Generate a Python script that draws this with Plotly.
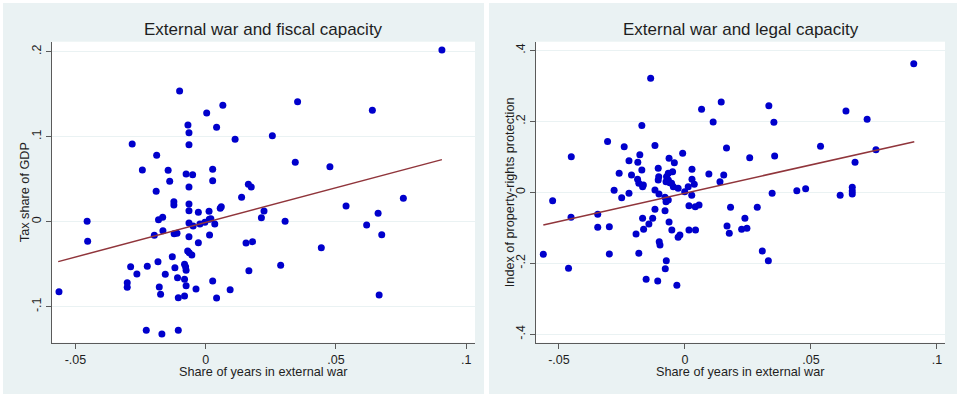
import plotly.graph_objects as go

# ---------------- data ----------------
fiscal_x = [0.0907, -0.0100, 0.0353, 0.0640, 0.0066, 0.0004, 0.0042, -0.0068, -0.0064, -0.0064,
            0.0113, 0.0256, -0.0282, -0.0188, -0.0243, -0.0144, -0.0138, -0.0075, -0.0050, 0.0027,
            0.0027, -0.0064, -0.0190, 0.0164, 0.0175, 0.0344, 0.0477, 0.0138, 0.0759, -0.0122,
            -0.0122, -0.0064, -0.0064, -0.0028, 0.0013, 0.0060, 0.0056, 0.0224, 0.0214, -0.0455,
            -0.0181, -0.0165, -0.0064, -0.0048, -0.0022, -0.0003, 0.0014, 0.0020, 0.0035, -0.0164,
            -0.0197, -0.0121, -0.0110, -0.0064, 0.0015, -0.0028, -0.0453, 0.0155, 0.0180, 0.0539,
            0.0662, 0.0618, 0.0676, 0.0305, 0.0444, 0.0288, 0.0666, -0.0563, -0.0288, -0.0264,
            -0.0301, -0.0301, -0.0224, -0.0183, -0.0128, -0.0155, -0.0118, -0.0081, -0.0077, -0.0075,
            -0.0069, -0.0063, -0.0053, -0.0108, -0.0081, -0.0075, -0.0081, -0.0105, -0.0178, -0.0173,
            -0.0037, 0.0027, 0.0042, 0.0094, 0.0166, -0.0228, -0.0168, -0.0105]
fiscal_y = [0.2020, 0.1538, 0.1410, 0.1310, 0.1370, 0.1280, 0.1110, 0.1138, 0.1047, 0.0906,
            0.0969, 0.1012, 0.0914, 0.0781, 0.0608, 0.0605, 0.0475, 0.0561, 0.0553, 0.0616,
            0.0482, 0.0408, 0.0358, 0.0440, 0.0408, 0.0699, 0.0647, 0.0287, 0.0275, 0.0235,
            0.0195, 0.0208, 0.0129, 0.0111, 0.0122, 0.0176, 0.0158, 0.0126, 0.0047, 0.0005,
            0.0024, 0.0052, -0.0015, -0.0051, -0.0027, -0.0007, 0.0028, 0.0035, -0.0027, -0.0106,
            -0.0160, -0.0141, -0.0136, -0.0176, -0.0156, -0.0247, -0.0231, -0.0251, -0.0235, 0.0185,
            0.0099, -0.0039, -0.0153, 0.0005, -0.0306, -0.0513, -0.0862, -0.0824, -0.0529, -0.0615,
            -0.0718, -0.0772, -0.0525, -0.0471, -0.0412, -0.0619, -0.0541, -0.0501, -0.0529, -0.0572,
            -0.0345, -0.0365, -0.0392, -0.0659, -0.0678, -0.0753, -0.0874, -0.0894, -0.0768, -0.0854,
            -0.0792, -0.0698, -0.0898, -0.0800, -0.0576, -0.1278, -0.1321, -0.1278]
fiscal_fit_x = [-0.0566, 0.0907]
fiscal_fit_y = [-0.0470, 0.0730]

legal_x = [0.0908, -0.0136, 0.0144, 0.0333, 0.0066, 0.0639, 0.0112, 0.0353, 0.0723, -0.0171,
           -0.0307, -0.0241, -0.0119, 0.0165, 0.0538, 0.0758, -0.0451, 0.0257, 0.0356, 0.0675,
           -0.0222, -0.0187, -0.0179, -0.0063, -0.0009, -0.0042, -0.0261, -0.0212, -0.0171, -0.0106,
           0.0028, 0.0095, 0.0154, 0.0139, -0.0066, -0.0049, -0.0073, -0.0066, -0.0075, -0.0060,
           -0.0188, -0.0183, -0.0165, -0.0168, -0.0106, -0.0104, -0.0046, -0.0027, 0.0013, 0.0028,
           0.0037, -0.0001, -0.0281, -0.0222, -0.0251, -0.0119, -0.0103, -0.0079, -0.0066, -0.0075,
           0.0027, 0.0016, 0.0041, 0.0056, -0.0119, -0.0079, 0.0181, 0.0287, -0.0346, -0.0452,
           -0.0168, -0.0128, -0.0063, 0.0238, -0.0525, -0.0346, -0.0300, -0.0562, -0.0462, -0.0300,
           -0.0143, -0.0164, -0.0194, -0.0052, -0.0027, -0.0020, 0.0016, 0.0042, 0.0167, 0.0176,
           0.0225, 0.0246, 0.0307, 0.0331, -0.0102, -0.0099, -0.0183, -0.0074, -0.0078, -0.0154,
           -0.0108, -0.0032, 0.0346, 0.0444, 0.0479, 0.0616, 0.0664, 0.0664, 0.0664, -0.0053]
legal_y = [0.3623, 0.3210, 0.2540, 0.2440, 0.2340, 0.2290, 0.1980, 0.1970, 0.2060, 0.1880,
           0.1430, 0.1280, 0.1320, 0.1250, 0.1300, 0.1200, 0.1000, 0.0975, 0.1020, 0.0845,
           0.0890, 0.0845, 0.1060, 0.0958, 0.1100, 0.0834, 0.0535, 0.0487, 0.0628, 0.0676,
           0.0648, 0.0515, 0.0487, 0.0299, 0.0535, 0.0580, 0.0440, 0.0346, 0.0299, 0.0270,
           0.0366, 0.0254, 0.0206, 0.0158, 0.0346, 0.0440, 0.0158, 0.0113, 0.0158, 0.0366,
           0.0225, 0.0017, 0.0056, -0.0028, -0.0152, 0.0065, -0.0048, -0.0141, -0.0217, -0.0265,
           -0.0085, -0.0377, -0.0406, -0.0358, -0.0479, -0.0518, -0.0423, -0.0423, -0.0620, -0.0704,
           -0.0732, -0.0732, -0.0837, -0.0732, -0.0237, -0.0986, -0.0969, -0.1746, -0.2141, -0.1738,
           -0.0893, -0.1040, -0.1175, -0.1062, -0.1268, -0.1203, -0.1062, -0.1062, -0.0949, -0.1155,
           -0.1042, -0.1014, -0.1653, -0.1927, -0.1390, -0.1485, -0.1718, -0.1927, -0.2152, -0.2450,
           -0.2499, -0.2620, -0.0028, 0.0045, 0.0101, -0.0085, 0.0141, 0.0037, -0.0048, 0.0253]
legal_fit_x = [-0.0562, 0.0910]
legal_fit_y = [-0.0921, 0.1425]

x_tickvals = [-0.05, 0, 0.05, 0.1]
x_ticktext = ["-.05", "0", ".05", ".1"]
fiscal_tickvals = [-0.1, 0, 0.1, 0.2]
fiscal_ticktext = ["-.1", "0", ".1", ".2"]
legal_tickvals = [-0.4, -0.2, 0, 0.2, 0.4]
legal_ticktext = ["-.4", "-.2", "0", ".2", ".4"]

titles = ["External war and fiscal capacity", "External war and legal capacity"]
x_title = "Share of years in external war"
y_titles = ["Tax share of GDP", "Index of property-rights protection"]

# ---------------- figure ----------------
W, H = 960, 397
BLUE = "#0000CC"
MAROON = "#90353B"
PANEL = "#EAF2F3"
FONT = "Liberation Sans, Arial, sans-serif"
TXT = "#1e1e1e"

fig = go.Figure()
fig.add_trace(go.Scatter(x=fiscal_x, y=fiscal_y, mode="markers", xaxis="x", yaxis="y",
                         marker=dict(color=BLUE, size=7), showlegend=False))
fig.add_trace(go.Scatter(x=fiscal_fit_x, y=fiscal_fit_y, mode="lines", xaxis="x", yaxis="y",
                         line=dict(color=MAROON, width=1.5), showlegend=False))
fig.add_trace(go.Scatter(x=legal_x, y=legal_y, mode="markers", xaxis="x2", yaxis="y2",
                         marker=dict(color=BLUE, size=7), showlegend=False))
fig.add_trace(go.Scatter(x=legal_fit_x, y=legal_fit_y, mode="lines", xaxis="x2", yaxis="y2",
                         line=dict(color=MAROON, width=1.5), showlegend=False))


def px_x(p):
    return p / W


def px_y(p):
    return 1 - p / H


L1, R1 = 51.7, 475.0
L2, R2 = 536.0, 945.0
TOP, BOT = 41.7, 342.7
ydom = [px_y(BOT), px_y(TOP)]
axis_common = dict(showline=True, linecolor="#5a5a5a", linewidth=1, ticks="outside",
                   ticklen=5, tickcolor="#5a5a5a", zeroline=False, mirror=False,
                   automargin=False,
                   tickfont=dict(family=FONT, size=12.5, color=TXT))

fig.update_layout(
    width=W, height=H,
    margin=dict(l=0, r=0, t=0, b=0, autoexpand=False),
    paper_bgcolor=PANEL,
    plot_bgcolor="white",
    font=dict(family=FONT, color=TXT),
    xaxis=dict(domain=[px_x(L1), px_x(R1)], range=[-0.0591, 0.1034],
               tickvals=x_tickvals, ticktext=x_ticktext, showgrid=False, anchor="y",
               **axis_common),
    yaxis=dict(domain=ydom, range=[-0.1424, 0.2118], tickvals=fiscal_tickvals,
               ticktext=fiscal_ticktext, tickangle=-90, showgrid=True, gridcolor=PANEL,
               gridwidth=1, anchor="x", **axis_common),
    xaxis2=dict(domain=[px_x(L2), px_x(R2)], range=[-0.0591, 0.1032],
                tickvals=x_tickvals, ticktext=x_ticktext, showgrid=False, anchor="y2",
                **axis_common),
    yaxis2=dict(domain=ydom, range=[-0.4237, 0.4242], tickvals=legal_tickvals,
                ticktext=legal_ticktext, tickangle=-90, showgrid=True, gridcolor=PANEL,
                gridwidth=1, anchor="x2", **axis_common),
)

ann = []
for i, (l, r, ytx) in enumerate([(L1, R1, 25.0), (L2, R2, 510.0)]):
    cx = (px_x(l) + px_x(r)) / 2
    ann.append(dict(text=titles[i], x=cx, y=px_y(29.5), xref="paper", yref="paper",
                    showarrow=False, xanchor="center", yanchor="middle",
                    font=dict(family=FONT, size=17, color=TXT)))
    ann.append(dict(text=x_title, x=cx, y=px_y(371.7), xref="paper", yref="paper",
                    showarrow=False, xanchor="center", yanchor="middle",
                    font=dict(family=FONT, size=12.7, color=TXT)))
    ann.append(dict(text=y_titles[i], x=px_x(ytx), y=px_y((TOP + BOT) / 2), xref="paper",
                    yref="paper", showarrow=False, xanchor="center", yanchor="middle",
                    textangle=-90, font=dict(family=FONT, size=12.7, color=TXT)))
fig.update_layout(annotations=ann)

white = dict(fillcolor="white", line=dict(width=0), layer="below", type="rect",
             xref="paper", yref="paper")
fig.update_layout(shapes=[
    dict(x0=0, x1=1, y0=px_y(3), y1=1, **white),
    dict(x0=0, x1=1, y0=0, y1=px_y(394), **white),
    dict(x0=0, x1=px_x(3), y0=0, y1=1, **white),
    dict(x0=px_x(957), x1=1, y0=0, y1=1, **white),
    dict(x0=px_x(484), x1=px_x(489), y0=0, y1=1, **white),
])

fig.write_html("out.html", config={"displayModeBar": False},
               post_script="document.body.style.margin='0';document.body.style.overflow='hidden';")
